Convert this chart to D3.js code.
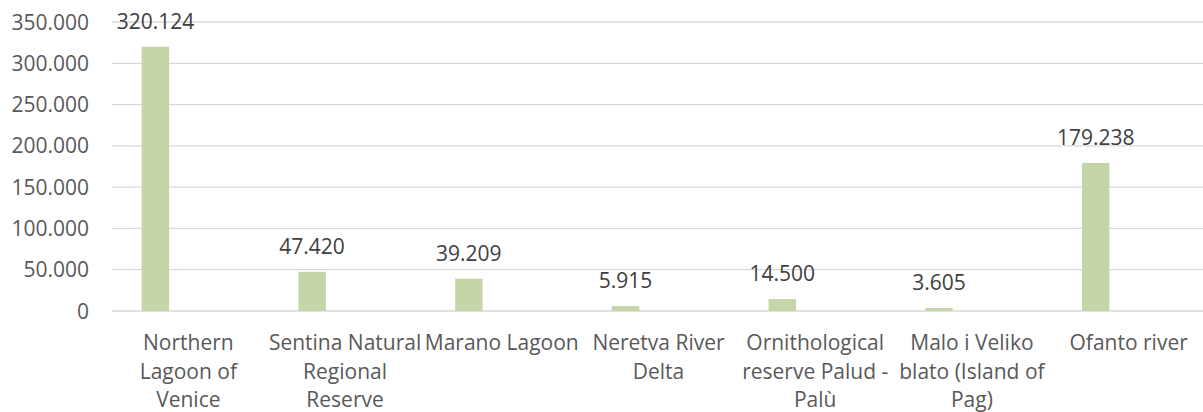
<!DOCTYPE html>
<html>
<head>
<meta charset="utf-8">
<script src="https://cdn.jsdelivr.net/npm/d3@7"></script>
<style>
    body { margin: 0; background: #fff; }
    svg { display: block; font-family: "Open Sans", sans-serif; }
</style>
</head>
<body>
<div id="chart"></div>
<script>
// chart data
const categories = [
    "Northern Lagoon of Venice",
    "Sentina Natural Regional Reserve",
    "Marano Lagoon",
    "Neretva River Delta",
    "Ornithological reserve Palud - Palù",
    "Malo i Veliko blato (Island of Pag)",
    "Ofanto river"
];
// how each category label wraps on the axis
const labelLines = [
    ["Northern", "Lagoon of", "Venice"],
    ["Sentina Natural", "Regional", "Reserve"],
    ["Marano Lagoon"],
    ["Neretva River", "Delta"],
    ["Ornithological", "reserve Palud -", "Palù"],
    ["Malo i Veliko", "blato (Island of", "Pag)"],
    ["Ofanto river"]
];
const values = [320124, 47420, 39209, 5915, 14500, 3605, 179238];
const yTicks = [0, 50000, 100000, 150000, 200000, 250000, 300000, 350000];

const width = 1203, height = 412;

const locale = d3.formatLocale({decimal: ",", thousands: ".", grouping: [3], currency: ["", ""]});
const fmt = locale.format(",d");

const svg = d3.select("#chart")
    .append("svg")
    .attr("width", width)
    .attr("height", height);

const x = d3.scaleBand()
    .domain(categories)
    .range([112, 1209]);

const y = d3.scaleLinear()
    .domain([0, 350000])
    .range([311, 22]);

// gridlines
svg.append("g")
    .selectAll("line")
    .data(yTicks)
    .enter()
    .append("line")
    .attr("x1", 112)
    .attr("x2", width)
    .attr("y1", d => y(d))
    .attr("y2", d => y(d))
    .attr("stroke", "#d9d9d9")
    .attr("stroke-width", 1.3);

// y axis labels
svg.append("g")
    .selectAll("text")
    .data(yTicks)
    .enter()
    .append("text")
    .attr("x", 89)
    .attr("y", d => y(d))
    .attr("dy", "0.36em")
    .attr("text-anchor", "end")
    .attr("font-size", 21)
    .attr("fill", "#595959")
    .text(d => fmt(d));

const barW = x.bandwidth() * 0.175;
const barOffset = x.bandwidth() * 0.223;
const barCenter = (d) => x(d) + x.bandwidth() / 2 - barOffset;

// bars
svg.append("g")
    .selectAll("rect")
    .data(categories)
    .enter()
    .append("rect")
    .attr("x", d => barCenter(d) - barW / 2)
    .attr("y", (d, i) => y(values[i]))
    .attr("width", barW)
    .attr("height", (d, i) => y(0) - y(values[i]))
    .attr("fill", "#c4d6a7");

// value labels
svg.append("g")
    .selectAll("text")
    .data(categories)
    .enter()
    .append("text")
    .attr("x", d => barCenter(d))
    .attr("y", (d, i) => y(values[i]) - 18)
    .attr("text-anchor", "middle")
    .attr("font-size", 21)
    .attr("fill", "#404040")
    .text((d, i) => fmt(values[i]));

// category labels
const catG = svg.append("g")
    .selectAll("text")
    .data(categories)
    .enter()
    .append("text")
    .attr("x", d => x(d) + x.bandwidth() / 2 - 2)
    .attr("y", 350)
    .attr("text-anchor", "middle")
    .attr("font-size", 21)
    .attr("fill", "#595959");

catG.selectAll("tspan")
    .data((d, i) => labelLines[i])
    .enter()
    .append("tspan")
    .attr("x", function() { return d3.select(this.parentNode).attr("x"); })
    .attr("dy", (d, i) => i === 0 ? 0 : 28.5)
    .text(d => d);
</script>
</body>
</html>
